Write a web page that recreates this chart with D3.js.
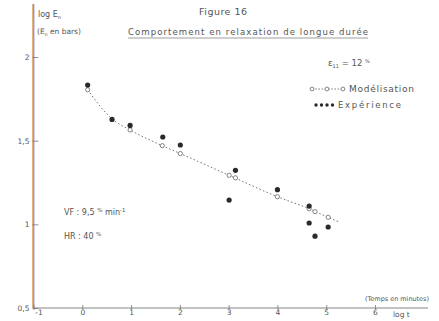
<!DOCTYPE html>
<html>
<head>
<meta charset="utf-8">
<script src="https://cdn.jsdelivr.net/npm/d3@7"></script>
<style>
  html, body { margin: 0; padding: 0; background: #ffffff; }
  svg { display: block; }
  text { font-family: "DejaVu Sans", sans-serif; fill: #555; }
</style>
</head>
<body>
<script>
// log t (temps en minutes) and log En (En en bars)
const logTModele = [0.11, 0.98, 1.64, 2.01, 3.01, 3.14, 4.0, 4.65, 4.77, 5.04];
const logEModele = [1.804, 1.564, 1.470, 1.423, 1.293, 1.278, 1.165, 1.093, 1.076, 1.042];
// dashed model curve (runs a little past the last computed point)
const logTCourbe = [0.11, 0.61, 0.98, 1.64, 2.01, 3.01, 4.0, 4.65, 5.04, 5.25];
const logECourbe = [1.804, 1.630, 1.564, 1.470, 1.423, 1.293, 1.165, 1.093, 1.042, 1.016];
const logTExp = [0.11, 0.61, 0.98, 1.65, 2.01, 3.14, 3.01, 4.0, 4.65, 4.65, 4.77, 5.04];
const logEExp = [1.832, 1.627, 1.591, 1.522, 1.474, 1.323, 1.145, 1.207, 1.109, 1.008, 0.929, 0.984];
const xTicks = [-1, 0, 1, 2, 3, 4, 5, 6];
const yTicks = [0.5, 1, 1.5, 2];
const yTickLabels = ["0,5", "1", "1,5", "2"];

const W = 439, H = 321;
const svg = d3.select("body").append("svg").attr("width", W).attr("height", H);

const x = d3.scaleLinear().domain([-1, 6]).range([33.5, 375]);
const y = d3.scaleLinear().domain([0.5, 2]).range([308, 57]);

// axes
svg.append("line").attr("x1", x(-1) - 0.8).attr("x2", x(-1) - 0.8).attr("y1", 4).attr("y2", y(0.5))
  .attr("stroke", "#e0a060").attr("stroke-width", 1);
svg.append("line").attr("x1", x(-1) + 0.3).attr("x2", x(-1) + 0.3).attr("y1", 4).attr("y2", y(0.5))
  .attr("stroke", "#6b6bd8").attr("stroke-width", 1);
svg.append("line").attr("x1", x(-1)).attr("x2", 428).attr("y1", y(0.5)).attr("y2", y(0.5))
  .attr("stroke", "#777").attr("stroke-width", 0.9);

const xAxis = d3.axisBottom(x).tickValues(xTicks).tickSize(0).tickPadding(2)
  .tickFormat(d => d);
const gx = svg.append("g").attr("transform", `translate(0,${y(0.5)})`).call(xAxis);
gx.select(".domain").remove();
gx.selectAll(".tick line").remove();
gx.selectAll(".tick").append("line").attr("y1", -3).attr("y2", 2).attr("stroke", "#777").attr("stroke-width", 0.8);
gx.selectAll(".tick text").attr("font-size", 7.5).attr("fill", "#555").attr("dx", d => d === -1 ? 5 : 0)
  .style("font-family", "DejaVu Sans, sans-serif");

const yAxis = d3.axisLeft(y).tickValues(yTicks).tickSize(0).tickPadding(4)
  .tickFormat((d, i) => yTickLabels[i]);
const gy = svg.append("g").attr("transform", `translate(${x(-1)},0)`).call(yAxis);
gy.select(".domain").remove();
gy.selectAll(".tick line").remove();
gy.selectAll(".tick").append("line").attr("x1", -1).attr("x2", 5).attr("stroke", "#777").attr("stroke-width", 0.8);
gy.selectAll(".tick text").attr("font-size", 7.5).attr("fill", "#555")
  .style("font-family", "DejaVu Sans, sans-serif");

// model curve
const courbe = logTCourbe.map((t, i) => [t, logECourbe[i]]);
svg.append("path").datum(courbe)
  .attr("d", d3.line().x(d => x(d[0])).y(d => y(d[1])).curve(d3.curveMonotoneX))
  .attr("fill", "none").attr("stroke", "#666").attr("stroke-width", 0.9)
  .attr("stroke-dasharray", "1.6,2.2");

// model points
svg.selectAll("circle.mod").data(logTModele.map((t, i) => [t, logEModele[i]])).enter()
  .append("circle").attr("class", "mod")
  .attr("cx", d => x(d[0])).attr("cy", d => y(d[1])).attr("r", 2.1)
  .attr("fill", "#fff").attr("stroke", "#666").attr("stroke-width", 0.8);

// experimental points
svg.selectAll("circle.exp").data(logTExp.map((t, i) => [t, logEExp[i]])).enter()
  .append("circle").attr("class", "exp")
  .attr("cx", d => x(d[0])).attr("cy", d => y(d[1])).attr("r", 2.6)
  .attr("fill", "#2a2a2a");

// titles
svg.append("text").attr("x", 199).attr("y", 15)
  .attr("font-size", 9.5).attr("textLength", 48).attr("lengthAdjust", "spacing").text("Figure 16");
svg.append("text").attr("x", 128).attr("y", 35)
  .attr("font-size", 8.5).attr("textLength", 240).attr("lengthAdjust", "spacing")
  .text("Comportement en relaxation de longue durée");
svg.append("line").attr("x1", 128).attr("x2", 368).attr("y1", 38).attr("y2", 38)
  .attr("stroke", "#777").attr("stroke-width", 0.7);

// y-axis label
const ly = svg.append("text").attr("x", 38).attr("y", 17).attr("font-size", 8);
ly.append("tspan").text("log E");
ly.append("tspan").attr("font-size", 5).attr("dy", 2).text("n");
const ly2 = svg.append("text").attr("x", 37).attr("y", 34).attr("font-size", 7.5);
ly2.append("tspan").text("(E");
ly2.append("tspan").attr("font-size", 4.5).attr("dy", 2).text("n");
ly2.append("tspan").attr("dy", -2).text(" en bars)");

// strain level
const eps = svg.append("text").attr("x", 328).attr("y", 66).attr("font-size", 8.5);
eps.append("tspan").text("ε");
eps.append("tspan").attr("font-size", 5).attr("dy", 2).text("11");
eps.append("tspan").attr("dy", -2).text("  =  12 ");
eps.append("tspan").attr("font-size", 5).attr("dy", -3).text("%");

// legend
const legX = [312, 327, 343];
svg.append("line").attr("x1", legX[0]).attr("x2", legX[2]).attr("y1", 89).attr("y2", 89)
  .attr("stroke", "#666").attr("stroke-width", 0.8).attr("stroke-dasharray", "1.6,1.6");
svg.selectAll("circle.legm").data(legX).enter().append("circle").attr("class", "legm")
  .attr("cx", d => d).attr("cy", 89).attr("r", 1.9)
  .attr("fill", "#fff").attr("stroke", "#666").attr("stroke-width", 0.8);
svg.append("text").attr("x", 349).attr("y", 92).attr("font-size", 9)
  .attr("textLength", 65).attr("lengthAdjust", "spacing").text("Modélisation");
svg.selectAll("circle.lege").data([316, 321.5, 327, 332.5]).enter().append("circle").attr("class", "lege")
  .attr("cx", d => d).attr("cy", 105).attr("r", 1.7).attr("fill", "#2a2a2a");
svg.append("text").attr("x", 338).attr("y", 108).attr("font-size", 8.5)
  .attr("textLength", 63).attr("lengthAdjust", "spacing").text("Expérience");

// test conditions
const vf = svg.append("text").attr("x", 64).attr("y", 215).attr("font-size", 8);
vf.append("tspan").text("VF  :  9,5 ");
vf.append("tspan").attr("font-size", 5.5).attr("dy", -3).text("%");
vf.append("tspan").attr("dy", 3).text("  min");
vf.append("tspan").attr("font-size", 5.5).attr("dy", -3).text("-1");
const hr = svg.append("text").attr("x", 64).attr("y", 239).attr("font-size", 8);
hr.append("tspan").text("HR  :  40 ");
hr.append("tspan").attr("font-size", 5.5).attr("dy", -3).text("%");

// x-axis captions
svg.append("text").attr("x", 365).attr("y", 301).attr("font-size", 6.5)
  .attr("textLength", 64).attr("lengthAdjust", "spacing").text("(Temps en minutes)");
svg.append("text").attr("x", 393).attr("y", 317).attr("font-size", 7.5).text("log t");
</script>
</body>
</html>
